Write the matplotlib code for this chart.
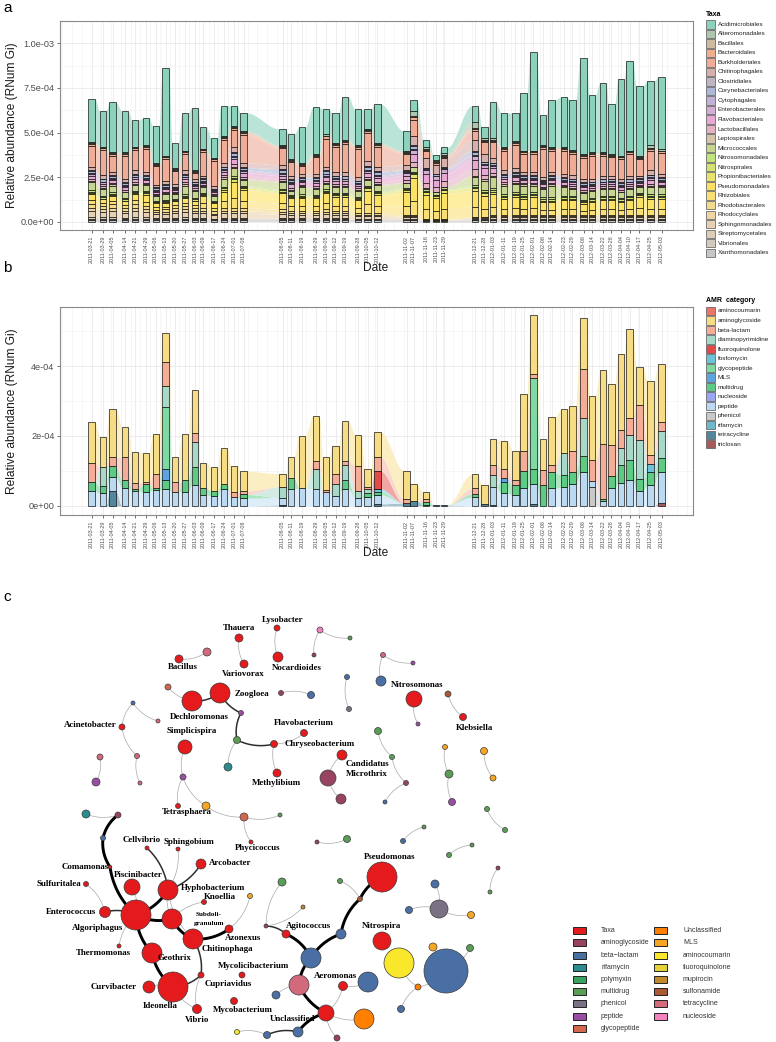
import numpy as np
import matplotlib
matplotlib.use("Agg")
import matplotlib.pyplot as plt
import matplotlib.dates as mdates
from matplotlib.patches import Rectangle, Circle
from matplotlib.colors import to_rgb

plt.rcParams['font.family'] = ['Liberation Sans', 'DejaVu Sans']

# ---------------- data: sampling dates ----------------
dates = ["2011-03-21", "2011-03-29", "2011-04-05", "2011-04-14", "2011-04-21", "2011-04-29",
         "2011-05-06", "2011-05-13", "2011-05-20", "2011-05-27", "2011-06-03", "2011-06-09",
         "2011-06-17", "2011-06-24", "2011-07-01", "2011-07-08", "2011-08-05", "2011-08-11",
         "2011-08-19", "2011-08-29", "2011-09-05", "2011-09-12", "2011-09-19", "2011-09-28",
         "2011-10-05", "2011-10-12", "2011-11-02", "2011-11-07", "2011-11-16", "2011-11-23",
         "2011-11-29", "2011-12-21", "2011-12-28", "2012-01-03", "2012-01-11", "2012-01-19",
         "2012-01-25", "2012-02-01", "2012-02-08", "2012-02-14", "2012-02-23", "2012-02-29",
         "2012-03-08", "2012-03-14", "2012-03-22", "2012-03-28", "2012-04-04", "2012-04-10",
         "2012-04-17", "2012-04-25", "2012-05-03"]

# ---------------- panel a: taxa (units of 1e-5) ----------------
acidimicrobiales = [24, 20, 28, 23, 15, 15, 21, 49, 14, 21, 35, 12, 11, 17, 11, 10, 9, 14, 20, 26,
                    14, 17, 24, 20, 11, 22, 11, 6, 4, 3, 3, 9, 6, 20, 19, 16, 32, 55, 17, 26,
                    28, 28, 54, 32, 39, 28, 43, 50, 39, 36, 40]
alteromonadales = [0.6, 0.5, 0.4, 0.5, 0.5, 0.6, 0.4, 0.5, 0.4, 0.5, 0.5, 0.4, 0.4, 0.6, 0.8, 0.6, 0.5, 0.4, 0.5, 0.5,
                   0.6, 0.5, 0.6, 0.5, 0.6, 0.6, 0.8, 3.0, 1.2, 0.8, 1.5, 3.5, 1.0, 1.0, 0.6, 0.5, 0.5, 0.5, 0.5, 0.5,
                   0.5, 0.5, 0.5, 0.5, 0.5, 0.5, 0.5, 0.5, 0.5, 1.5, 1.0]
bacillales = [0.5, 0.4, 0.5, 0.4, 0.4, 0.5, 0.4, 0.4, 0.3, 0.4, 0.4, 0.4, 0.3, 0.5, 0.5, 0.4, 0.4, 0.4, 0.4, 0.5,
              0.5, 0.4, 0.5, 0.4, 0.5, 0.5, 0.4, 0.6, 0.4, 0.3, 0.3, 0.6, 0.5, 0.5, 0.4, 0.4, 0.5, 0.6, 0.4, 0.5,
              0.5, 0.5, 0.6, 0.5, 0.5, 0.4, 0.5, 0.5, 0.5, 0.5, 0.5]
bacteroidales = [1.2, 1.1, 1.0, 1.2, 1.0, 1.1, 1.0, 1.1, 0.8, 1.0, 0.8, 1.1, 1.0, 1.2, 1.1, 1.3, 0.9, 0.8, 0.7, 1.0,
                 1.3, 1.2, 1.3, 1.3, 1.3, 1.1, 0.8, 1.4, 0.6, 0.4, 0.4, 1.0, 0.8, 1.0, 1.1, 1.2, 1.0, 1.0, 1.3, 1.1,
                 1.2, 1.1, 1.1, 1.2, 1.1, 1.0, 1.1, 1.1, 1.0, 1.1, 1.1]
burkholderiales = [11.7, 14.0, 9.1, 12.9, 11.1, 12.8, 10.2, 12.0, 7.5, 9.1, 3.3, 13.1, 14.3, 12.7, 9.6, 15.7, 9.2, 7.4, 4.4, 9.0,
                   15.6, 13.9, 15.6, 15.8, 15.6, 10.8, 6.0, 9.0, 3.8, 1.5, 0.8, 4.9, 6.7, 8.5, 10.9, 12.9, 10.0, 9.9, 15.8, 11.9,
                   12.8, 11.9, 11.8, 12.8, 10.9, 10.1, 10.9, 11.9, 9.0, 10.9, 11.4]
chitinophagales = [2.1, 1.8, 1.8, 1.8, 2.1, 1.8, 1.4, 1.8, 1.4, 2.1, 1.4, 1.4, 1.4, 2.1, 2.8, 2.5, 2.1, 2.1, 1.8, 2.1,
                   2.1, 2.1, 2.1, 1.8, 2.5, 2.5, 2.8, 4.9, 5.6, 4.9, 5.2, 6.0, 4.2, 2.8, 2.1, 2.1, 1.8, 1.8, 1.4, 1.8,
                   1.8, 1.8, 1.8, 1.4, 1.8, 1.8, 1.8, 1.8, 1.4, 2.5, 1.8]
clostridiales = [0.4, 0.5, 0.4, 0.4, 0.5, 0.4, 0.4, 0.5, 0.2, 0.4, 0.4, 0.4, 0.2, 0.5, 0.6, 0.4, 0.6, 0.4, 0.4, 0.5,
                 0.6, 0.4, 0.4, 0.4, 0.6, 0.6, 0.4, 0.7, 0.2, 0.2, 0.2, 0.6, 0.4, 0.4, 0.4, 0.5, 0.4, 0.4, 0.4, 0.4,
                 0.4, 0.5, 0.4, 0.4, 0.4, 0.4, 0.5, 0.4, 0.4, 0.4, 0.4]
corynebacteriales = [1.1, 1.2, 1.0, 1.1, 1.2, 1.0, 1.1, 1.1, 0.6, 1.1, 1.0, 1.2, 0.6, 1.1, 1.7, 1.1, 1.7, 1.1, 1.2, 1.1,
                     1.7, 1.1, 1.2, 1.1, 1.7, 1.7, 1.1, 1.7, 0.6, 0.6, 0.6, 1.7, 1.1, 1.1, 1.2, 1.1, 1.0, 1.1, 1.1, 1.2,
                     1.1, 1.1, 1.0, 1.1, 1.2, 1.1, 1.1, 1.2, 1.1, 1.1, 1.2]
cytophagales = [0.5, 0.4, 0.6, 0.5, 0.4, 0.6, 0.5, 0.5, 0.2, 0.5, 0.6, 0.4, 0.2, 0.5, 0.7, 0.5, 0.7, 0.5, 0.4, 0.5,
                0.7, 0.5, 0.4, 0.5, 0.7, 0.7, 0.5, 0.7, 0.2, 0.2, 0.2, 0.7, 0.5, 0.5, 0.4, 0.5, 0.6, 0.5, 0.5, 0.4,
                0.5, 0.5, 0.6, 0.5, 0.4, 0.5, 0.5, 0.4, 0.5, 0.5, 0.4]
enterobacterales = [0.9, 0.8, 0.8, 0.8, 0.9, 0.8, 0.6, 0.8, 0.6, 0.9, 0.6, 0.6, 0.6, 0.9, 1.2, 1.0, 0.9, 0.9, 0.8, 0.9,
                    0.9, 0.9, 0.9, 0.8, 1.0, 1.0, 1.2, 2.1, 2.4, 2.1, 2.2, 2.5, 1.8, 1.2, 0.9, 0.9, 0.8, 0.8, 0.6, 0.8,
                    0.8, 0.8, 0.8, 0.6, 0.8, 0.8, 0.8, 0.8, 0.6, 1.0, 0.8]
flavobacteriales = [1.8, 1.5, 1.5, 1.5, 1.8, 1.5, 1.2, 1.5, 1.2, 1.8, 1.2, 1.2, 1.2, 1.8, 2.4, 2.1, 1.8, 1.8, 1.5, 1.8,
                    1.8, 1.8, 1.8, 1.5, 2.1, 2.1, 2.4, 4.2, 4.8, 4.2, 4.5, 5.1, 3.6, 2.4, 1.8, 1.8, 1.5, 1.5, 1.2, 1.5,
                    1.5, 1.5, 1.5, 1.2, 1.5, 1.5, 1.5, 1.5, 1.2, 2.1, 1.5]
lactobacillales = [1.2, 0.9, 0.9, 0.9, 1.2, 0.9, 0.8, 0.9, 0.8, 1.2, 0.8, 0.8, 0.8, 1.2, 1.6, 1.4, 1.2, 1.2, 0.9, 1.2,
                   1.2, 1.2, 1.2, 0.9, 1.4, 1.4, 1.6, 2.8, 3.2, 2.8, 3.1, 3.4, 2.4, 1.6, 1.2, 1.2, 0.9, 0.9, 0.8, 0.9,
                   0.9, 0.9, 0.9, 0.8, 0.9, 0.9, 0.9, 0.9, 0.8, 1.4, 0.9]
leptospirales = [0.7, 0.6, 0.6, 0.5, 0.5, 0.5, 0.4, 0.5, 0.4, 0.7, 0.6, 0.5, 0.4, 0.7, 0.7, 0.5, 0.6, 0.4, 0.6, 0.5,
                 0.5, 0.5, 0.5, 0.5, 0.5, 0.5, 0.4, 0.4, 0.2, 0.2, 0.2, 0.7, 0.8, 0.9, 0.7, 0.7, 0.7, 0.6, 0.7, 0.9,
                 0.7, 0.6, 0.6, 0.6, 0.6, 0.6, 0.5, 0.6, 0.5, 0.6, 0.6]
micrococcales = [4.6, 3.9, 3.9, 3.3, 3.3, 3.3, 2.6, 3.3, 2.6, 4.6, 3.9, 3.3, 2.6, 4.6, 4.6, 3.3, 3.9, 2.6, 3.9, 3.3,
                 3.3, 3.3, 3.3, 3.3, 3.3, 3.3, 2.6, 2.6, 1.3, 1.3, 1.3, 4.6, 5.2, 5.9, 4.6, 4.6, 4.6, 3.9, 4.6, 5.9,
                 4.6, 3.9, 3.9, 3.9, 3.9, 3.9, 3.3, 3.9, 3.3, 3.9, 3.9]
nitrosomonadales = [0.9, 0.8, 0.8, 0.6, 0.6, 0.6, 0.5, 0.6, 0.5, 0.9, 0.8, 0.6, 0.5, 0.9, 0.9, 0.6, 0.8, 0.5, 0.8, 0.6,
                    0.6, 0.6, 0.6, 0.6, 0.6, 0.6, 0.5, 0.5, 0.3, 0.3, 0.3, 0.9, 1.0, 1.2, 0.9, 0.9, 0.9, 0.8, 0.9, 1.2,
                    0.9, 0.8, 0.8, 0.8, 0.8, 0.8, 0.6, 0.8, 0.6, 0.8, 0.8]
nitrospirales = [0.8, 0.7, 0.7, 0.6, 0.6, 0.6, 0.5, 0.6, 0.5, 0.8, 0.7, 0.6, 0.5, 0.8, 0.8, 0.6, 0.7, 0.5, 0.7, 0.6,
                 0.6, 0.6, 0.6, 0.6, 0.6, 0.6, 0.5, 0.5, 0.2, 0.2, 0.2, 0.8, 1.0, 1.0, 0.8, 0.8, 0.8, 0.7, 0.8, 1.0,
                 0.8, 0.7, 0.7, 0.7, 0.7, 0.7, 0.6, 0.7, 0.6, 0.7, 0.7]
propionibacteriales = [0.6, 0.4, 0.5, 0.4, 0.6, 0.7, 0.4, 0.4, 0.4, 0.5, 0.4, 0.7, 0.5, 1.0, 1.6, 1.1, 1.0, 0.8, 0.8, 0.8,
                       1.0, 0.9, 0.9, 0.8, 1.4, 1.1, 1.4, 2.3, 1.5, 1.3, 1.6, 1.6, 1.3, 1.3, 1.0, 1.1, 1.0, 1.1, 0.8, 0.8,
                       0.9, 0.9, 0.7, 0.8, 0.9, 0.9, 0.8, 0.9, 1.1, 1.0, 1.0]
pseudomonadales = [3.3, 2.2, 2.8, 2.2, 3.3, 3.9, 2.2, 2.2, 2.2, 2.8, 2.2, 3.9, 2.8, 5.5, 8.8, 6.0, 5.5, 4.4, 4.4, 4.4,
                   5.5, 5.0, 5.0, 4.4, 7.7, 6.0, 7.7, 12.7, 8.3, 7.2, 8.8, 8.8, 7.2, 7.2, 5.5, 6.0, 5.5, 6.0, 4.4, 4.4,
                   5.0, 5.0, 3.9, 4.4, 5.0, 5.0, 4.4, 5.0, 6.0, 5.5, 5.5]
rhizobiales = [2.1, 1.4, 1.7, 1.4, 2.1, 2.4, 1.4, 1.4, 1.4, 1.7, 1.4, 2.4, 1.7, 3.5, 5.6, 3.9, 3.5, 2.8, 2.8, 2.8,
               3.5, 3.1, 3.1, 2.8, 4.9, 3.9, 4.9, 8.0, 5.2, 4.5, 5.6, 5.6, 4.5, 4.5, 3.5, 3.9, 3.5, 3.9, 2.8, 2.8,
               3.1, 3.1, 2.4, 2.8, 3.1, 3.1, 2.8, 3.1, 3.9, 3.5, 3.5]
rhodobacterales = [2.2, 2.0, 2.2, 1.8, 2.2, 2.0, 1.5, 1.5, 1.8, 2.0, 1.8, 1.8, 1.2, 1.8, 1.8, 1.8, 1.5, 1.2, 1.2, 1.2,
                   1.5, 1.2, 1.2, 1.0, 1.0, 1.0, 0.8, 0.8, 0.3, 0.3, 0.3, 0.5, 0.5, 0.8, 0.8, 0.8, 0.8, 0.8, 0.8, 0.8,
                   0.8, 0.8, 0.8, 0.8, 0.8, 0.8, 0.8, 0.8, 0.8, 0.8, 0.8]
rhodocyclales = [1.8, 1.6, 1.8, 1.4, 1.8, 1.6, 1.2, 1.2, 1.4, 1.6, 1.4, 1.4, 1.0, 1.4, 1.4, 1.4, 1.2, 1.0, 1.0, 1.0,
                 1.2, 1.0, 1.0, 0.8, 0.8, 0.8, 0.6, 0.6, 0.2, 0.2, 0.2, 0.4, 0.4, 0.6, 0.6, 0.6, 0.6, 0.6, 0.6, 0.6,
                 0.6, 0.6, 0.6, 0.6, 0.6, 0.6, 0.6, 0.6, 0.6, 0.6, 0.6]
sphingomonadales = [3.2, 2.8, 3.2, 2.5, 3.2, 2.8, 2.1, 2.1, 2.5, 2.8, 2.5, 2.5, 1.8, 2.5, 2.5, 2.5, 2.1, 1.8, 1.8, 1.8,
                    2.1, 1.8, 1.8, 1.4, 1.4, 1.4, 1.0, 1.0, 0.3, 0.3, 0.3, 0.7, 0.7, 1.0, 1.0, 1.0, 1.0, 1.0, 1.0, 1.0,
                    1.0, 1.0, 1.0, 1.0, 1.0, 1.0, 1.0, 1.0, 1.0, 1.0, 1.0]
streptomycetales = [0.9, 0.8, 0.9, 0.7, 0.9, 0.8, 0.6, 0.6, 0.7, 0.8, 0.7, 0.7, 0.5, 0.7, 0.7, 0.7, 0.6, 0.5, 0.5, 0.5,
                    0.6, 0.5, 0.5, 0.4, 0.4, 0.4, 0.3, 0.3, 0.1, 0.1, 0.1, 0.2, 0.2, 0.3, 0.3, 0.3, 0.3, 0.3, 0.3, 0.3,
                    0.3, 0.3, 0.3, 0.3, 0.3, 0.3, 0.3, 0.3, 0.3, 0.3, 0.3]
vibrionales = [0.9, 0.8, 0.9, 0.6, 0.9, 0.8, 0.6, 0.6, 0.6, 0.8, 0.6, 0.6, 0.5, 0.6, 0.6, 0.6, 0.6, 0.5, 0.5, 0.5,
               0.6, 0.5, 0.5, 0.4, 0.4, 0.4, 0.3, 0.3, 0.1, 0.1, 0.1, 0.2, 0.2, 0.3, 0.3, 0.3, 0.3, 0.3, 0.3, 0.3,
               0.3, 0.3, 0.3, 0.3, 0.3, 0.3, 0.3, 0.3, 0.3, 0.3, 0.3]
xanthomonadales = [1.0, 1.0, 1.0, 1.0, 1.0, 1.0, 0.9, 1.0, 1.0, 1.0, 1.0, 1.0, 0.9, 1.0, 1.0, 1.0, 1.0, 1.0, 1.0, 1.0,
                   1.0, 1.0, 1.0, 1.0, 1.0, 1.0, 1.0, 1.0, 0.8, 0.7, 0.8, 1.0, 1.0, 1.0, 1.0, 1.0, 1.0, 1.0, 1.0, 1.0,
                   1.0, 1.0, 1.0, 1.0, 1.0, 1.0, 1.0, 1.0, 1.0, 1.0, 1.0]

taxa_names = ["Acidimicrobiales", "Alteromonadales", "Bacillales", "Bacteroidales", "Burkholderiales",
              "Chitinophagales", "Clostridiales", "Corynebacteriales", "Cytophagales", "Enterobacterales",
              "Flavobacteriales", "Lactobacillales", "Leptospirales", "Micrococcales", "Nitrosomonadales",
              "Nitrospirales", "Propionibacteriales", "Pseudomonadales", "Rhizobiales", "Rhodobacterales",
              "Rhodocyclales", "Sphingomonadales", "Streptomycetales", "Vibrionales", "Xanthomonadales"]
taxa_values = [acidimicrobiales, alteromonadales, bacillales, bacteroidales, burkholderiales,
               chitinophagales, clostridiales, corynebacteriales, cytophagales, enterobacterales,
               flavobacteriales, lactobacillales, leptospirales, micrococcales, nitrosomonadales,
               nitrospirales, propionibacteriales, pseudomonadales, rhizobiales, rhodobacterales,
               rhodocyclales, sphingomonadales, streptomycetales, vibrionales, xanthomonadales]

# ---------------- panel b: AMR categories (units of 1e-5) ----------------
aminocoumarin = [0, 0, 0, 0, 0, 0, 0, 0, 0, 0, 0, 0, 0, 0, 0, 0, 0, 0, 0, 0,
                 0, 0, 0, 0, 0, 0, 0, 0, 0, 0, 0, 0, 0, 0, 0, 0, 0, 0, 0, 0,
                 0, 0, 0, 0, 0, 0, 0, 0, 0, 0, 0]
aminoglycoside = [11.9, 8.6, 13.9, 8.8, 8.8, 8.3, 11.4, 8.1, 7.3, 13.0, 12.2, 7.1, 6.8, 10.3, 7.5, 5.6, 3.7, 6.2, 14.9, 13.0,
                  9.3, 7.9, 11.6, 8.9, 5.1, 7.2, 8.0, 4.7, 1.9, 0.0, 0.0, 4.1, 5.4, 7.3, 8.0, 8.4, 16.3, 16.8, 9.0, 13.6,
                  12.6, 12.8, 14.6, 18.3, 21.2, 17.4, 21.7, 25.3, 10.8, 21.1, 16.8]
beta_lactam = [5.4, 0.0, 2.5, 6.5, 1.7, 0.7, 4.1, 6.9, 2.9, 0.0, 2.6, 0.0, 0.0, 0.0, 1.4, 1.0, 0.0, 0.0, 0.0, 2.3,
               0.7, 3.0, 1.2, 7.1, 0.8, 4.0, 1.3, 0.0, 1.0, 0.0, 0.0, 1.6, 0.0, 3.0, 2.8, 1.5, 5.5, 1.0, 4.3, 2.1,
               0.0, 5.9, 14.0, 5.9, 15.7, 8.9, 5.0, 5.0, 10.2, 2.6, 2.4]
diaminopyrimidine = [0.0, 5.5, 0.0, 0.0, 0.0, 0.0, 0.0, 6.0, 0.0, 0.0, 7.3, 0.0, 0.0, 0.0, 0.0, 0.0, 3.1, 0.0, 0.0, 5.7,
                     0.0, 3.5, 4.3, 2.0, 1.1, 0.0, 0.0, 0.0, 0.0, 0.0, 0.0, 0.0, 0.0, 3.3, 0.0, 0.0, 0.0, 0.0, 0.0, 0.0,
                     6.2, 0.0, 10.8, 0.0, 0.0, 0.0, 5.0, 7.1, 11.2, 0.0, 7.8]
fluoroquinolone = [0, 0, 0, 0, 0, 0, 0, 0, 0, 0, 0, 0, 0, 0, 0, 0, 0, 0, 0, 0,
                   0, 0, 0, 0, 0, 5.1, 0, 0, 0, 0, 0, 0, 0, 0, 0, 0, 0, 0, 0, 0,
                   0, 0, 0, 0, 0, 0, 0, 0, 0, 0, 0]
fosfomycin = [0, 0, 0, 0, 0, 0, 0, 0, 0, 0, 0, 0, 0, 0, 0, 0, 0, 0, 0, 0,
              0, 0, 0, 0, 0, 0.8, 0, 0, 0, 0, 0, 0, 0, 0, 0, 0, 0, 0, 0, 0,
              0, 0, 0, 0, 0, 0, 0, 0, 0, 2.4, 0]
glycopeptide = [0, 0, 0, 0, 0, 0, 0, 17.9, 0, 0, 0, 0, 0, 0, 0, 0, 0, 0, 0, 0,
                0, 0, 0, 0, 0, 0, 0, 0, 0, 0, 0, 0, 0, 0, 0, 0, 0, 26.2, 0, 0,
                0, 0, 0, 0, 0, 0, 0, 0, 0, 0, 0]
mls = [0, 0, 0, 0, 0, 0, 0, 3.0, 0, 0, 0, 0, 0, 0, 0, 0, 0, 0, 0, 0,
       0, 0, 0, 0, 0, 0, 0, 0, 0, 0, 0, 0, 0, 0, 1.0, 0, 0, 0, 0, 0,
       0, 0, 0, 0, 0, 0, 0, 0, 0, 0, 0]
multidrug = [2.5, 2.1, 3.0, 2.2, 0.4, 2.3, 0.4, 2.7, 0.0, 3.4, 5.1, 2.1, 1.3, 1.3, 0.0, 1.1, 0.0, 3.1, 0.0, 0.0,
             0.0, 0.0, 2.5, 0.0, 1.1, 0.9, 0.0, 0.0, 0.7, 0.0, 0.0, 0.9, 0.0, 0.0, 3.3, 2.8, 5.1, 4.1, 5.9, 4.6,
             3.5, 3.6, 4.6, 0.0, 0.5, 3.5, 5.2, 5.7, 3.3, 3.6, 4.0]
nucleoside = [0, 0, 0, 0, 0, 0, 0, 0, 0, 0, 0, 0, 0, 0, 0, 0, 0, 0, 0, 0,
              0, 0, 0, 0, 0, 0, 0, 0, 0, 0, 0, 0, 0, 0, 0, 0, 0, 0, 0, 0,
              0, 0, 0, 0, 0, 0, 0, 0, 0, 0, 0]
peptide = [4.3, 3.6, 4.1, 5.2, 4.4, 3.9, 4.6, 4.8, 3.9, 4.1, 5.9, 3.1, 2.9, 4.9, 2.5, 2.2, 2.1, 4.8, 5.2, 4.8,
           3.9, 2.7, 4.8, 2.4, 2.5, 2.6, 0.0, 0.0, 0.0, 0.0, 0.0, 2.5, 0.0, 5.2, 3.6, 3.1, 5.0, 5.9, 0.0, 5.0,
           5.3, 6.2, 9.7, 1.7, 1.4, 5.0, 6.5, 7.4, 4.3, 6.0, 8.9]
phenicol = [0, 0, 0, 0, 0, 0, 0, 0, 0, 0, 0, 0, 0, 0, 0, 0, 0, 0, 0, 0,
            0, 0, 0, 0, 0, 0, 0, 0, 0, 0, 0, 0, 0, 0, 0, 0, 0, 0, 0, 0,
            0, 0, 0, 5.5, 0, 0, 0, 0, 0, 0, 0]
rifamycin = [0, 0, 0, 0, 0, 0, 0, 0, 0, 0, 0, 0, 0, 0, 0, 0, 0, 0, 0, 0,
             0, 0, 0, 0, 0, 0, 0, 0, 0, 0, 0, 0, 0, 0, 0, 0, 0, 0, 0, 0,
             0, 0, 0, 0, 0, 0, 0, 0, 0, 0, 0]
tetracycline = [0, 0, 4.3, 0, 0, 0, 0, 0, 0, 0, 0, 0, 0, 0, 0, 0, 0.3, 0, 0, 0,
                0, 0, 0, 0, 0, 0.6, 0.8, 1.5, 0.3, 0.3, 0.3, 0, 0.5, 0.3, 0, 0, 0, 0.5, 0, 0,
                0, 0, 0, 0, 0, 0, 0, 0, 0, 0, 0]
triclosan = [0, 0, 0, 0, 0, 0, 0, 0, 0, 0, 0, 0, 0, 0, 0, 0, 0, 0, 0, 0,
             0, 0, 0, 0, 0, 0, 0, 0, 0, 0, 0, 0, 0, 0, 0, 0, 0, 0, 0, 0,
             0, 0, 0, 0, 0, 0, 0, 0, 0, 0, 0.8]

amr_names = ["aminocoumarin", "aminoglycoside", "beta-lactam", "diaminopyrimidine", "fluoroquinolone",
             "fosfomycin", "glycopeptide", "MLS", "multidrug", "nucleoside", "peptide", "phenicol",
             "rifamycin", "tetracycline", "triclosan"]
amr_values = [aminocoumarin, aminoglycoside, beta_lactam, diaminopyrimidine, fluoroquinolone,
              fosfomycin, glycopeptide, mls, multidrug, nucleoside, peptide, phenicol,
              rifamycin, tetracycline, triclosan]
amr_colors = ["#E8766B", "#F6DC84", "#F4AE98", "#A8D9C8", "#E34A4A", "#6CC4D8", "#7ED9A2", "#5EA4E0",
              "#5DCB84", "#9CA6F0", "#BBDAF2", "#C9C9C9", "#70B8CC", "#52879C", "#A65A5A"]

# ---------------- panel c: network ----------------
# taxa nodes: name, layout x, layout y, size
taxa_nodes = [("Lysobacter", 277, 628, 3), ("Thauera", 239, 638, 4), ("Bacillus", 179, 659, 4),
              ("Variovorax", 244, 664, 4), ("Nocardioides", 278, 657, 5), ("Zoogloea", 220, 693, 10),
              ("Dechloromonas", 192, 701, 10), ("Acinetobacter", 122, 727, 3), ("Simplicispira", 185, 747, 7),
              ("Flavobacterium", 304, 733, 3.5), ("Chryseobacterium", 274, 744, 3.5), ("Methylibium", 277, 773, 4),
              ("Candidatus Microthrix", 342, 755, 5), ("Nitrosomonas", 414, 699, 8), ("Klebsiella", 463, 717, 3.5),
              ("Tetrasphaera", 178, 806, 2.5), ("Phycicoccus", 251, 842, 2), ("Cellvibrio", 147, 848, 2),
              ("Sphingobium", 178, 849, 2), ("Arcobacter", 201, 864, 5), ("Comamonas", 110, 867, 1.8),
              ("Piscinibacter", 132, 887, 8), ("Hyphobacterium", 168, 890, 10), ("Sulfuritalea", 86, 884, 2.5),
              ("Knoellia", 204, 902, 2.5), ("Enterococcus", 105, 912, 5.5), ("Algoriphagus", 136, 915, 15),
              ("Subdoligranulum", 172, 919, 10), ("Azonexus", 229, 929, 4), ("Chitinophaga", 193, 939, 10),
              ("Thermomonas", 119, 946, 2), ("Geothrix", 152, 953, 10), ("Mycolicibacterium", 242, 975, 3),
              ("Curvibacter", 149, 987, 6), ("Cupriavidus", 201, 975, 3), ("Ideonella", 173, 987, 15),
              ("Vibrio", 197, 1009, 4.5), ("Mycobacterium", 234, 1001, 3.5), ("Pseudomonas", 382, 877, 15),
              ("Nitrospira", 382, 941, 9), ("Agitococcus", 286, 934, 4), ("Aeromonas", 343, 986, 4.5),
              ("Unclassified", 326, 1013, 8)]

taxa_labels = {"Lysobacter": (283, 620), "Thauera": (239, 628), "Bacillus": (183, 667),
               "Variovorax": (243, 674), "Nocardioides": (297, 668), "Zoogloea": (252, 694),
               "Dechloromonas": (199, 717), "Acinetobacter": (90, 725), "Simplicispira": (192, 731),
               "Flavobacterium": (304, 723), "Chryseobacterium": (320, 744), "Methylibium": (276, 783),
               "Candidatus Microthrix": (367, 769), "Nitrosomonas": (417, 685), "Klebsiella": (475, 728),
               "Tetrasphaera": (187, 812), "Phycicoccus": (258, 848), "Cellvibrio": (142, 840),
               "Sphingobium": (189, 842), "Arcobacter": (230, 863), "Comamonas": (85, 867),
               "Piscinibacter": (138, 875), "Hyphobacterium": (213, 888), "Sulfuritalea": (59, 884),
               "Knoellia": (220, 897), "Enterococcus": (71, 912), "Algoriphagus": (98, 928),
               "Subdoligranulum": (209, 919), "Azonexus": (243, 938), "Chitinophaga": (227, 949),
               "Thermomonas": (103, 953), "Geothrix": (175, 958), "Mycolicibacterium": (253, 966),
               "Curvibacter": (114, 987), "Cupriavidus": (228, 984), "Ideonella": (160, 1006),
               "Vibrio": (197, 1020), "Mycobacterium": (243, 1010), "Pseudomonas": (390, 857),
               "Nitrospira": (381, 926), "Agitococcus": (308, 926), "Aeromonas": (335, 976),
               "Unclassified": (293, 1019)}

# resistance gene nodes: id, layout x, layout y, size, category
gene_nodes = [("g1", 207, 652, 4, "tetracycline"), ("g2", 320, 630, 3, "nucleoside"),
              ("g3", 350, 638, 2, "multidrug"), ("g4", 314, 655, 2, "aminoglycoside"),
              ("g5", 383, 655, 2.5, "tetracycline"), ("g6", 413, 663, 2, "peptide"),
              ("g7", 381, 681, 5, "beta-lactam"), ("g8", 418, 724, 2, "peptide"),
              ("g9", 448, 694, 3, "sulfonamide"), ("g10", 347, 677, 2.5, "beta-lactam"),
              ("g11", 349, 709, 2.5, "phenicol"), ("g12", 311, 695, 3.5, "beta-lactam"),
              ("g13", 281, 693, 2.5, "aminoglycoside"), ("g14", 168, 687, 3, "glycopeptide"),
              ("g15", 241, 713, 2.5, "peptide"), ("g16", 237, 740, 3.5, "multidrug"),
              ("g17", 228, 767, 4, "rifamycin"), ("g18", 133, 703, 2, "beta-lactam"),
              ("g19", 158, 721, 2, "tetracycline"), ("g20", 137, 756, 2.5, "tetracycline"),
              ("g21", 140, 783, 2, "tetracycline"), ("g22", 96, 782, 4, "peptide"),
              ("g23", 100, 757, 3, "tetracycline"), ("g24", 183, 777, 3, "peptide"),
              ("g25", 328, 778, 8, "aminoglycoside"), ("g26", 341, 799, 5, "aminoglycoside"),
              ("g27", 378, 731, 3.5, "multidrug"), ("g28", 392, 757, 2.5, "multidrug"),
              ("g29", 406, 783, 2.5, "aminoglycoside"), ("g30", 385, 802, 2, "beta-lactam"),
              ("g31", 445, 747, 2.5, "MLS"), ("g32", 449, 774, 4, "multidrug"),
              ("g33", 452, 802, 3.5, "peptide"), ("g34", 484, 751, 3.5, "MLS"),
              ("g35", 493, 778, 3, "MLS"), ("g36", 487, 809, 2.5, "multidrug"),
              ("g37", 505, 830, 2.5, "multidrug"), ("g38", 424, 827, 2, "multidrug"),
              ("g39", 403, 841, 2.5, "beta-lactam"), ("g40", 472, 845, 2, "multidrug"),
              ("g41", 449, 855, 2.5, "multidrug"), ("g42", 498, 868, 2, "aminoglycoside"),
              ("g43", 490, 892, 2, "multidrug"), ("g44", 435, 884, 4, "beta-lactam"),
              ("g45", 439, 909, 9, "phenicol"), ("g46", 409, 910, 3.5, "beta-lactam"),
              ("g47", 471, 915, 3.5, "MLS"), ("g48", 360, 899, 2.5, "sulfonamide"),
              ("g49", 340, 881, 2.5, "multidrug"), ("g50", 341, 934, 5, "beta-lactam"),
              ("g51", 399, 963, 15, "aminocoumarin"), ("g52", 446, 971, 22, "beta-lactam"),
              ("g53", 433, 947, 4, "MLS"), ("g54", 470, 948, 3.5, "multidrug"),
              ("g55", 418, 987, 3, "Unclassified"), ("g56", 401, 1009, 3.5, "beta-lactam"),
              ("g57", 266, 926, 2, "aminoglycoside"), ("g58", 303, 907, 2, "mupirocin"),
              ("g59", 282, 882, 4, "multidrug"), ("g60", 311, 958, 10, "beta-lactam"),
              ("g61", 299, 985, 10, "tetracycline"), ("g62", 368, 982, 10, "beta-lactam"),
              ("g63", 276, 995, 4, "beta-lactam"), ("g64", 364, 1019, 10, "Unclassified"),
              ("g65", 337, 1038, 3, "aminoglycoside"), ("g66", 298, 1032, 5, "beta-lactam"),
              ("g67", 267, 1035, 3.5, "beta-lactam"), ("g68", 237, 1032, 2.5, "aminocoumarin"),
              ("g69", 86, 814, 4, "rifamycin"), ("g70", 118, 815, 3, "aminoglycoside"),
              ("g71", 103, 838, 2.5, "beta-lactam"), ("g72", 250, 896, 2.5, "MLS"),
              ("g73", 206, 806, 4, "MLS"), ("g74", 244, 817, 4, "glycopeptide"),
              ("g75", 280, 815, 2, "multidrug"), ("g76", 317, 842, 2, "aminoglycoside"),
              ("g77", 347, 839, 3.5, "multidrug")]

# edges: node a, node b, strength (1 weak, 2 medium, 3 strong)
edges = [("Thauera", "Variovorax", 1), ("Lysobacter", "Nocardioides", 1), ("Bacillus", "g1", 1),
         ("g2", "g3", 1), ("g2", "g4", 1), ("g5", "g6", 1), ("g5", "g7", 1), ("Nitrosomonas", "g8", 1),
         ("g9", "Klebsiella", 1), ("g10", "g11", 1), ("g12", "g13", 1), ("g14", "Dechloromonas", 1),
         ("Dechloromonas", "Zoogloea", 2), ("Zoogloea", "g15", 2), ("g15", "g16", 2),
         ("g16", "Chryseobacterium", 2), ("g16", "g17", 1), ("Chryseobacterium", "Flavobacterium", 1),
         ("Chryseobacterium", "Methylibium", 1), ("g18", "Acinetobacter", 1), ("g18", "g19", 1),
         ("Acinetobacter", "g20", 1), ("g20", "g21", 1), ("g22", "g23", 1), ("Simplicispira", "g24", 1),
         ("g24", "Tetrasphaera", 1), ("g24", "g73", 1), ("g73", "g74", 1), ("g74", "g75", 1),
         ("g74", "Phycicoccus", 1), ("Candidatus Microthrix", "g25", 1), ("g25", "g26", 1),
         ("g27", "g28", 1), ("g28", "g29", 1), ("g29", "g30", 1), ("g31", "g32", 1), ("g32", "g33", 1),
         ("g34", "g35", 1), ("g36", "g37", 1), ("g38", "g39", 1), ("g40", "g41", 1), ("g42", "g43", 1),
         ("g45", "g44", 1), ("g45", "g46", 1), ("g45", "g47", 1), ("Pseudomonas", "g48", 3),
         ("g48", "g49", 1), ("g48", "g50", 3), ("g50", "g60", 3), ("g60", "Agitococcus", 3),
         ("Agitococcus", "g57", 2), ("g57", "g58", 1), ("g59", "g57", 1), ("g60", "g61", 3),
         ("g61", "g63", 1), ("g61", "Unclassified", 3), ("Unclassified", "Aeromonas", 1),
         ("Aeromonas", "g62", 1), ("Unclassified", "g64", 1), ("Unclassified", "g65", 1),
         ("Unclassified", "g66", 3), ("g66", "g67", 2), ("g67", "g68", 1), ("g51", "g55", 1),
         ("g55", "g52", 1), ("g55", "g56", 1), ("g52", "g54", 1), ("g69", "g70", 1), ("g70", "g71", 3),
         ("g71", "Comamonas", 3), ("Comamonas", "Algoriphagus", 3), ("Algoriphagus", "Piscinibacter", 1),
         ("Algoriphagus", "Enterococcus", 2), ("Enterococcus", "Sulfuritalea", 1),
         ("Algoriphagus", "Thermomonas", 1), ("Algoriphagus", "Hyphobacterium", 3),
         ("Algoriphagus", "Subdoligranulum", 3), ("Algoriphagus", "Geothrix", 3),
         ("Geothrix", "Ideonella", 3), ("Ideonella", "Curvibacter", 1), ("Ideonella", "Cupriavidus", 2),
         ("Ideonella", "Vibrio", 1), ("Cupriavidus", "Chitinophaga", 2), ("Cupriavidus", "Vibrio", 1),
         ("Subdoligranulum", "Chitinophaga", 3), ("Hyphobacterium", "Subdoligranulum", 1),
         ("Hyphobacterium", "Chitinophaga", 1), ("Hyphobacterium", "Cellvibrio", 2),
         ("Hyphobacterium", "Sphingobium", 1), ("Hyphobacterium", "Arcobacter", 2),
         ("Knoellia", "Subdoligranulum", 1), ("Chitinophaga", "Azonexus", 3), ("Azonexus", "g72", 1),
         ("g76", "g77", 1)]

net_legend_col1 = ["Taxa", "aminoglycoside", "beta\u2212lactam", "rifamycin", "polymyxin", "multidrug",
                   "phenicol", "peptide", "glycopeptide"]
net_legend_col2 = ["Unclassified", "MLS", "aminocoumarin", "fluoroquinolone", "mupirocin", "sulfonamide",
                   "tetracycline", "nucleoside"]
net_colors = {"Taxa": "#E41A1C", "aminoglycoside": "#984362", "beta-lactam": "#4A6FA5",
              "beta\u2212lactam": "#4A6FA5", "rifamycin": "#2B8C8E", "polymyxin": "#3BA35F",
              "multidrug": "#5A9E55", "phenicol": "#7A7282", "peptide": "#984EA3",
              "glycopeptide": "#D2694F", "Unclassified": "#FF7F00", "MLS": "#F5A623",
              "aminocoumarin": "#F8E72A", "fluoroquinolone": "#E3D23A", "mupirocin": "#C2892E",
              "sulfonamide": "#A95A34", "tetracycline": "#D26A7C", "nucleoside": "#F283BF"}


# ---------------- helpers ----------------
def blend(c, a):
    r = np.array(to_rgb(c))
    return tuple(r * a + (1 - a))


def set2_ramp(n):
    base = np.array([to_rgb(c) for c in ['#66C2A5', '#FC8D62', '#8DA0CB', '#E78AC3',
                                         '#A6D854', '#FFD92F', '#E5C494', '#B3B3B3']])
    pos = np.linspace(0, len(base) - 1, n)
    out = []
    for p in pos:
        i = min(int(np.floor(p)), len(base) - 2)
        f = p - i
        out.append(tuple(base[i] * (1 - f) + base[i + 1] * f))
    return out


def alluvial(ax, x, layers, bar_cols, flow_cols, w):
    # layers bottom -> top
    layers = np.asarray(layers, dtype=float)
    cum = np.vstack([np.zeros(layers.shape[1]), np.cumsum(layers, axis=0)])
    t = np.linspace(0, 1, 30)
    s = t * t * (3 - 2 * t)
    for i in range(len(x) - 1):
        xs = x[i] + w / 2 + (x[i + 1] - x[i] - w) * t
        for k in range(layers.shape[0]):
            lo = cum[k, i] + (cum[k, i + 1] - cum[k, i]) * s
            hi = cum[k + 1, i] + (cum[k + 1, i + 1] - cum[k + 1, i]) * s
            ax.fill_between(xs, lo, hi, color=flow_cols[k], lw=0, zorder=1)
    for k in range(layers.shape[0]):
        m = layers[k] > 0
        ax.bar(x[m], layers[k][m], width=w, bottom=cum[k][m], color=bar_cols[k],
               edgecolor='black', linewidth=0.45, zorder=3)


def style_axis(ax, x, yt, ylabs, ylim):
    ax.set_facecolor('white')
    ax.set_xlim(x[0] - 22.7, x[-1] + 22.5)
    ax.set_ylim(*ylim)
    ax.set_yticks(yt)
    ax.set_yticklabels(ylabs, fontsize=6.6, color='#4d4d4d')
    mids = (np.array(yt[:-1]) + np.array(yt[1:])) / 2
    ax.set_yticks(list(mids) + [yt[-1] + (yt[1] - yt[0]) / 2], minor=True)
    ax.set_xticks(x)
    ax.set_xticklabels(dates, rotation=90, fontsize=3.9, color='#4d4d4d')
    ax.set_xticks(np.arange(x[0] - 21, x[-1] + 22, 7), minor=True)
    ax.tick_params(which='major', length=2.5, width=0.5, color='#333333', pad=1.5)
    ax.tick_params(which='minor', length=0)
    ax.grid(which='major', color='#e6e6e6', lw=0.5, zorder=0)
    ax.grid(which='minor', color='#f0f0f0', lw=0.4, zorder=0)
    ax.set_axisbelow(True)
    for sp in ax.spines.values():
        sp.set_color('#8a8a8a')
        sp.set_linewidth(0.8)


def fx(px):
    return px / 776.0


def fy(py):
    return 1 - py / 1042.0


# ---------------- figure ----------------
fig = plt.figure(figsize=(7.76, 10.42), dpi=100)
axc = fig.add_axes([0, 0, 1, 1])
axc.set_xlim(0, 776)
axc.set_ylim(1042, 0)
axc.axis('off')

xnum = mdates.datestr2num(dates)
bw = 4.6

# panel a
ax_a = fig.add_axes([fx(60), fy(230), fx(693) - fx(60), (230 - 21) / 1042.0])
base_cols = set2_ramp(len(taxa_names))
a_bar = [blend(c, 0.75) for c in base_cols]
a_flow = [blend(c, 0.45) for c in base_cols]
layers_a = np.array(taxa_values[::-1], dtype=float) * 1e-5
alluvial(ax_a, xnum, layers_a, a_bar[::-1], a_flow[::-1], bw)
style_axis(ax_a, xnum, [0, 2.5e-4, 5e-4, 7.5e-4, 1e-3],
           ["0.0e+00", "2.5e-04", "5.0e-04", "7.5e-04", "1.0e-03"], (-4.5e-5, 1.003e-3))

# panel b
ax_b = fig.add_axes([fx(60), fy(515), fx(693) - fx(60), (515 - 307) / 1042.0])
b_flow = [blend(c, 0.5) for c in amr_colors]
layers_b = np.array(amr_values[::-1], dtype=float) * 1e-5
alluvial(ax_b, xnum, layers_b, amr_colors[::-1], b_flow[::-1], bw)
style_axis(ax_b, xnum, [0, 2e-4, 4e-4], ["0e+00", "2e-04", "4e-04"], (-2.6e-5, 5.69e-4))

# axis titles and panel letters
for yc in (125, 411):
    fig.text(fx(12), fy(yc), "Relative abundance (RNum Gi)", rotation=90, ha='center', va='center',
             fontsize=8.6, color='#1a1a1a')
fig.text(fx(376), fy(268), "Date", ha='center', va='center', fontsize=8.6, color='#1a1a1a')
fig.text(fx(376), fy(553), "Date", ha='center', va='center', fontsize=8.6, color='#1a1a1a')
fig.text(fx(3), fy(8), "a", fontsize=11, va='center')
fig.text(fx(3), fy(268), "b", fontsize=11, va='center')
fig.text(fx(3), fy(597), "c", fontsize=11, va='center')

# legends a and b (drawn in pixel space)
axc.text(706, 14, "Taxa", fontsize=5, fontweight='bold', va='center')
for i, name in enumerate(taxa_names):
    yc = 24.3 + i * 9.52
    axc.add_patch(Rectangle((706, yc - 4.2), 8.5, 8.4, fc=a_bar[i], ec='#555555', lw=0.5))
    axc.text(718, yc, name, fontsize=4.6, va='center', color='#222222')
axc.text(706, 300, "AMR  category", fontsize=5, fontweight='bold', va='center')
for i, name in enumerate(amr_names):
    yc = 311 + i * 9.52
    axc.add_patch(Rectangle((706, yc - 4.2), 8.5, 8.4, fc=amr_colors[i], ec='#555555', lw=0.5))
    axc.text(718, yc, name, fontsize=4.6, va='center', color='#222222')

# network
pos = {}
for name, x, y, r in taxa_nodes:
    pos[name] = (x, y, r, "Taxa")
for gid, x, y, r, cat in gene_nodes:
    pos[gid] = (x, y, r, cat)

edge_style = {1: ('#a8a8a8', 0.5), 2: ('#2e2e2e', 1.1), 3: ('black', 2.1)}
tt = np.linspace(0, 1, 40)[:, None]
for a, b, s in edges:
    p0 = np.array(pos[a][:2], dtype=float)
    p1 = np.array(pos[b][:2], dtype=float)
    d = p1 - p0
    ctrl = (p0 + p1) / 2 + 0.18 * np.array([-d[1], d[0]])
    pts = (1 - tt) ** 2 * p0 + 2 * (1 - tt) * tt * ctrl + tt ** 2 * p1
    col, lw = edge_style[s]
    axc.plot(pts[:, 0], pts[:, 1], color=col, lw=lw, zorder=2, solid_capstyle='round')

for key, (x, y, r, cat) in pos.items():
    axc.add_patch(Circle((x, y), r, fc=net_colors[cat], ec='#3a3a3a', lw=0.5, zorder=3))

lab_font = dict(family=['Liberation Serif', 'DejaVu Serif'], fontweight='bold', fontsize=6.4,
                ha='center', va='center', zorder=4)
for name, (lx, ly) in taxa_labels.items():
    if name == "Candidatus Microthrix":
        axc.text(lx, ly - 5, "Candidatus", **lab_font)
        axc.text(lx, ly + 5, "Microthrix", **lab_font)
    elif name == "Subdoligranulum":
        sm = dict(lab_font)
        sm['fontsize'] = 5.2
        axc.text(lx, ly - 4.5, "Subdoli-", **sm)
        axc.text(lx, ly + 4.5, "granulum", **sm)
    else:
        axc.text(lx, ly, name, **lab_font)

# network legend
for col, (bx, tx, names) in enumerate([(573, 601, net_legend_col1), (654, 683, net_legend_col2)]):
    for i, name in enumerate(names):
        yc = 930.7 + i * 12.2
        axc.add_patch(Rectangle((bx, yc - 3.5), 13, 7, fc=net_colors[name], ec='#222222', lw=0.7))
        axc.text(tx, yc, name, fontsize=5, va='center', color='#333333')

fig.savefig("out.png", dpi=100)
